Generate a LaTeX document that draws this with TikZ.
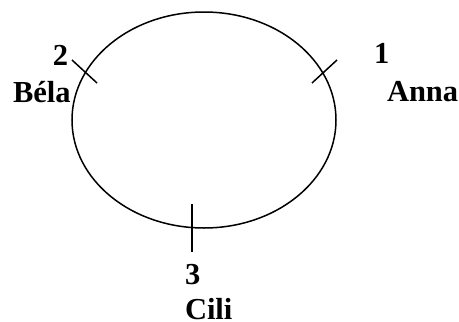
\documentclass[tikz,border=0pt]{standalone}
\usepackage{fontspec}
\setmainfont{Liberation Serif}
\begin{document}
\begin{tikzpicture}[x=1pt,y=-1pt,
  lbl/.style={inner sep=0pt, outer sep=0pt, font=\fontsize{30.5}{30.5}\selectfont\bfseries},
  ring/.style={line width=1.5pt, black},
  tick/.style={line width=1.5pt, black}]
\useasboundingbox (0,0) rectangle (459,322);
\draw[ring] (204,120) ellipse [x radius=132pt, y radius=108pt];
% ticks
\coordinate (t1a) at (312,83); \coordinate (t1b) at (337,60);
\coordinate (t2a) at (72,60);  \coordinate (t2b) at (97,83);
\coordinate (t3a) at (192,204); \coordinate (t3b) at (192,252);
\draw[tick] (t1a) -- (t1b);
\draw[tick] (t2a) -- (t2b);
\draw[tick] (t3a) -- (t3b);
% labels
\node[lbl, anchor=base west] (n1) at (374,63) {1};
\node[lbl, anchor=base west] (anna) at (387,101) {Anna};
\node[lbl, anchor=base east] (n2) at (68,65) {2};
\node[lbl, anchor=base west] (bela) at (13,102) {Béla};
\node[lbl, anchor=base west] (n3) at (185,284) {3};
\node[lbl, anchor=base west] (cili) at (185,319) {Cili};
\end{tikzpicture}
\end{document}
